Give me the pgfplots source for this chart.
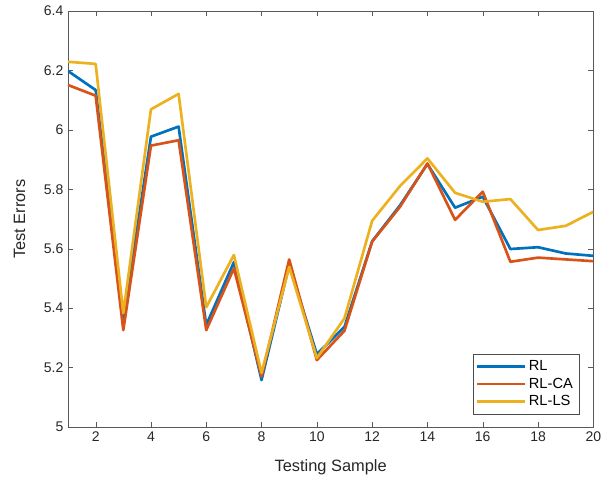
\documentclass[border=0pt]{standalone}
\usepackage{pgfplots}
\pgfplotsset{compat=1.18}
\usepackage{fontspec}
\setmainfont{Liberation Sans}
\definecolor{mblue}{rgb}{0,0.447,0.741}
\definecolor{mred}{rgb}{0.85,0.325,0.098}
\definecolor{myellow}{rgb}{0.929,0.694,0.125}
\begin{document}
\begin{tikzpicture}
\useasboundingbox (0,0) rectangle (451.5pt,360.75pt);
\begin{axis}[
at={(51pt,40.5pt)}, anchor=south west,
scale only axis,
width=394pt,
height=312pt,
xmin=1, xmax=20,
ymin=5, ymax=6.4,
xtick={2,4,...,20},
ytick={5,5.2,...,6.4},
yticklabels={5,5.2,5.4,5.6,5.8,6,6.2,6.4},
tick align=inside,
tick pos=both,
major tick length=4pt,
axis line style={color=black!65},
tick style={color=black!65},
xlabel={Testing Sample},
ylabel={Test Errors},
ylabel style={at={(axis description cs:-0.092,0.5)}, anchor=center},
xlabel style={at={(axis description cs:0.5,-0.097)}, anchor=center},
tick label style={font=\fontsize{10.5}{12.5}\selectfont, color=black!85},
label style={font=\fontsize{12.3}{14}\selectfont, color=black!85},
/pgf/number format/assume math mode=true,
every axis plot/.append style={line width=2pt, line join=round},
legend cell align=left,
legend style={at={(0.973,0.031)}, anchor=south east, font=\fontsize{11}{13}\selectfont, draw=black!70, row sep=0pt, inner sep=2.5pt},
legend image code/.code={\draw[#1, line width=2pt] (0cm,0cm) -- (1.25cm,0cm);},
]
\addplot[color=mblue] coordinates {
(1,6.198) (2,6.134) (3,5.360) (4,5.977) (5,6.011) (6,5.343) (7,5.555) (8,5.158) (9,5.545) (10,5.245)
(11,5.337) (12,5.625) (13,5.745) (14,5.885) (15,5.738) (16,5.775) (17,5.599) (18,5.605) (19,5.584) (20,5.576)};
\addlegendentry{RL}
\addplot[color=mred] coordinates {
(1,6.151) (2,6.115) (3,5.326) (4,5.947) (5,5.965) (6,5.326) (7,5.534) (8,5.170) (9,5.564) (10,5.225)
(11,5.324) (12,5.624) (13,5.740) (14,5.887) (15,5.697) (16,5.792) (17,5.556) (18,5.570) (19,5.564) (20,5.558)};
\addlegendentry{RL-CA}
\addplot[color=myellow] coordinates {
(1,6.229) (2,6.222) (3,5.383) (4,6.069) (5,6.121) (6,5.403) (7,5.579) (8,5.182) (9,5.539) (10,5.232)
(11,5.366) (12,5.694) (13,5.810) (14,5.904) (15,5.788) (16,5.758) (17,5.767) (18,5.663) (19,5.677) (20,5.724)};
\addlegendentry{RL-LS}
\end{axis}
\end{tikzpicture}
\end{document}
